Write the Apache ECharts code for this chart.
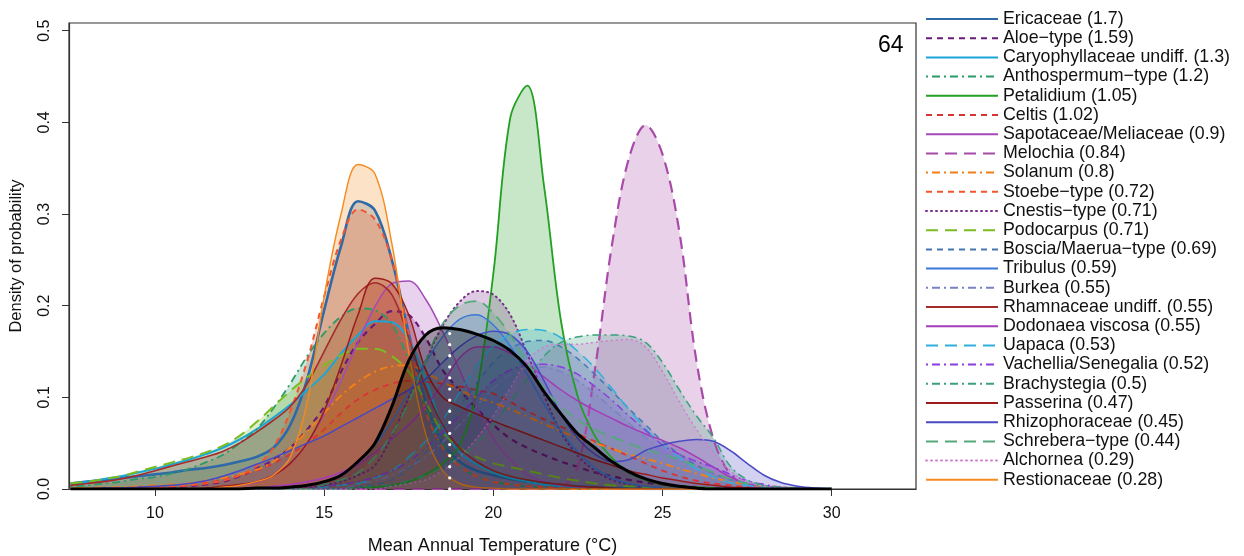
<!DOCTYPE html>
<html>
<head>
<meta charset="utf-8">
<script src="https://cdn.jsdelivr.net/npm/echarts@6/dist/echarts.min.js"></script>
<style>
  html, body { margin: 0; background: #fff; }
  #chart { width: 1244px; height: 556px; }
</style>
</head>
<body>
<div id="chart"></div>
<script>
// temperature grid (°C) shared by every density curve
var temps = [7.5, 8, 8.5, 9, 9.5, 10, 10.5, 11, 11.5, 12,
  12.5, 13, 13.5, 14, 14.5, 15, 15.5, 16, 16.5, 17,
  17.5, 18, 18.5, 19, 19.5, 20, 20.5, 21, 21.5, 22,
  22.5, 23, 23.5, 24, 24.5, 25, 25.5, 26, 26.5, 27,
  27.5, 28, 28.5, 29, 29.5, 30];

var taxa = ['Ericaceae', 'Aloe\u2212type', 'Caryophyllaceae undiff.', 'Anthospermum\u2212type', 'Petalidium',
  'Celtis', 'Sapotaceae/Meliaceae', 'Melochia', 'Solanum', 'Stoebe\u2212type', 'Cnestis\u2212type', 'Podocarpus',
  'Boscia/Maerua\u2212type', 'Tribulus', 'Burkea', 'Rhamnaceae undiff.', 'Dodonaea viscosa', 'Uapaca',
  'Vachellia/Senegalia', 'Brachystegia', 'Passerina', 'Rhizophoraceae', 'Schrebera\u2212type', 'Alchornea',
  'Restionaceae'];
var weights = ['1.7', '1.59', '1.3', '1.2', '1.05', '1.02', '0.9', '0.84', '0.8', '0.72', '0.71', '0.71',
  '0.69', '0.59', '0.55', '0.55', '0.55', '0.53', '0.52', '0.5', '0.47', '0.45', '0.44', '0.29', '0.28'];

var ericaceae = [0.006, 0.008, 0.010, 0.012, 0.014, 0.016, 0.018, 0.021, 0.023, 0.026,
  0.030, 0.035, 0.045, 0.070, 0.120, 0.195, 0.265, 0.314, 0.304, 0.250,
  0.170, 0.095, 0.050, 0.030, 0.020, 0.015, 0.011, 0.008, 0.006, 0.004,
  0.003, 0.002, 0.001, 0.001, 0, 0, 0, 0, 0, 0,
  0, 0, 0, 0, 0, 0];
var aloe = [0, 0, 0.001, 0.001, 0.001, 0.002, 0.002, 0.003, 0.005, 0.008,
  0.014, 0.022, 0.032, 0.045, 0.065, 0.090, 0.128, 0.160, 0.180, 0.194,
  0.190, 0.165, 0.130, 0.108, 0.088, 0.070, 0.055, 0.045, 0.037, 0.030,
  0.024, 0.018, 0.014, 0.010, 0.007, 0.005, 0.003, 0.002, 0.001, 0.001,
  0, 0, 0, 0, 0, 0];
var caryophyllaceae = [0.006, 0.008, 0.011, 0.014, 0.018, 0.022, 0.027, 0.032, 0.038, 0.045,
  0.054, 0.065, 0.078, 0.092, 0.108, 0.125, 0.148, 0.168, 0.183, 0.182,
  0.163, 0.120, 0.068, 0.040, 0.027, 0.018, 0.012, 0.008, 0.005, 0.003,
  0.002, 0.001, 0, 0, 0, 0, 0, 0, 0, 0,
  0, 0, 0, 0, 0, 0];
var anthospermum = [0.003, 0.004, 0.006, 0.008, 0.011, 0.013, 0.017, 0.022, 0.029, 0.037,
  0.050, 0.065, 0.088, 0.115, 0.145, 0.170, 0.188, 0.197, 0.195, 0.180,
  0.140, 0.090, 0.050, 0.025, 0.014, 0.008, 0.005, 0.003, 0.002, 0.001,
  0, 0, 0, 0, 0, 0, 0, 0, 0, 0,
  0, 0, 0, 0, 0, 0];
var petalidium = [0, 0, 0, 0, 0, 0, 0, 0, 0, 0,
  0, 0, 0, 0, 0, 0, 0, 0.001, 0.002, 0.004,
  0.008, 0.016, 0.028, 0.047, 0.105, 0.235, 0.405, 0.440, 0.330, 0.183,
  0.100, 0.058, 0.034, 0.018, 0.010, 0.005, 0.003, 0.002, 0.001, 0,
  0, 0, 0, 0, 0, 0];
var celtis = [0, 0, 0.001, 0.001, 0.002, 0.002, 0.003, 0.004, 0.007, 0.010,
  0.015, 0.020, 0.028, 0.038, 0.050, 0.065, 0.083, 0.098, 0.108, 0.115,
  0.118, 0.117, 0.115, 0.112, 0.108, 0.104, 0.095, 0.085, 0.076, 0.068,
  0.060, 0.052, 0.044, 0.036, 0.028, 0.020, 0.014, 0.009, 0.006, 0.004,
  0.002, 0.001, 0, 0, 0, 0];
var sapotaceae = [0, 0, 0, 0, 0, 0, 0, 0, 0, 0.002,
  0.004, 0.007, 0.015, 0.028, 0.050, 0.081, 0.118, 0.160, 0.199, 0.224,
  0.227, 0.207, 0.172, 0.130, 0.090, 0.055, 0.032, 0.016, 0.008, 0.004,
  0.002, 0.001, 0, 0, 0, 0, 0, 0, 0, 0,
  0, 0, 0, 0, 0, 0];
var melochia = [0, 0, 0, 0, 0, 0, 0, 0, 0, 0,
  0, 0, 0, 0, 0, 0, 0, 0, 0, 0,
  0, 0, 0, 0, 0, 0, 0, 0, 0, 0.002,
  0.025, 0.130, 0.265, 0.360, 0.397, 0.365, 0.280, 0.140, 0.055, 0.016,
  0.004, 0.001, 0, 0, 0, 0];
var solanum = [0.001, 0.001, 0.002, 0.002, 0.003, 0.004, 0.005, 0.006, 0.009, 0.012,
  0.016, 0.021, 0.030, 0.045, 0.063, 0.083, 0.102, 0.117, 0.128, 0.134,
  0.135, 0.127, 0.117, 0.108, 0.100, 0.094, 0.087, 0.079, 0.071, 0.063,
  0.056, 0.050, 0.044, 0.038, 0.033, 0.028, 0.022, 0.017, 0.012, 0.008,
  0.005, 0.003, 0.002, 0.001, 0, 0];
var stoebe = [0, 0, 0, 0.001, 0.001, 0.002, 0.003, 0.004, 0.006, 0.009,
  0.015, 0.025, 0.045, 0.085, 0.140, 0.210, 0.272, 0.305, 0.294, 0.250,
  0.168, 0.085, 0.045, 0.025, 0.014, 0.008, 0.005, 0.003, 0.002, 0.001,
  0, 0, 0, 0, 0, 0, 0, 0, 0, 0,
  0, 0, 0, 0, 0, 0];
var cnestis = [0, 0, 0, 0, 0, 0, 0, 0, 0, 0,
  0, 0, 0, 0.001, 0.002, 0.004, 0.008, 0.015, 0.026, 0.058,
  0.100, 0.140, 0.178, 0.204, 0.216, 0.212, 0.190, 0.148, 0.102, 0.062,
  0.036, 0.020, 0.010, 0.005, 0.002, 0.001, 0, 0, 0, 0,
  0, 0, 0, 0, 0, 0];
var podocarpus = [0.0065, 0.008, 0.011, 0.014, 0.019, 0.024, 0.029, 0.034, 0.040, 0.047,
  0.058, 0.073, 0.090, 0.107, 0.122, 0.135, 0.146, 0.153, 0.153, 0.145,
  0.128, 0.095, 0.062, 0.045, 0.035, 0.028, 0.024, 0.020, 0.016, 0.012,
  0.009, 0.006, 0.004, 0.003, 0.002, 0.001, 0, 0, 0, 0,
  0, 0, 0, 0, 0, 0];
var boscia = [0, 0, 0, 0, 0, 0, 0, 0, 0, 0,
  0, 0, 0, 0, 0, 0, 0, 0.002, 0.005, 0.010,
  0.022, 0.040, 0.063, 0.090, 0.115, 0.138, 0.153, 0.161, 0.162, 0.155,
  0.142, 0.125, 0.107, 0.088, 0.070, 0.052, 0.038, 0.026, 0.017, 0.010,
  0.006, 0.003, 0.001, 0, 0, 0];
var tribulus = [0, 0, 0, 0, 0, 0, 0, 0, 0, 0,
  0, 0, 0, 0.002, 0.004, 0.008, 0.016, 0.029, 0.048, 0.074,
  0.105, 0.138, 0.166, 0.185, 0.190, 0.179, 0.156, 0.125, 0.093, 0.063,
  0.040, 0.023, 0.012, 0.006, 0.003, 0.001, 0, 0, 0, 0,
  0, 0, 0, 0, 0, 0];
var burkea = [0, 0, 0, 0, 0, 0, 0, 0, 0, 0,
  0, 0, 0, 0, 0, 0, 0, 0.005, 0.009, 0.015,
  0.024, 0.035, 0.051, 0.070, 0.090, 0.110, 0.125, 0.132, 0.133, 0.128,
  0.118, 0.104, 0.088, 0.072, 0.056, 0.042, 0.031, 0.022, 0.015, 0.010,
  0.006, 0.004, 0.002, 0.001, 0, 0];
var rhamnaceae = [0.004, 0.006, 0.008, 0.011, 0.015, 0.020, 0.025, 0.030, 0.035, 0.041,
  0.050, 0.062, 0.075, 0.090, 0.115, 0.150, 0.185, 0.213, 0.225, 0.212,
  0.165, 0.110, 0.070, 0.045, 0.030, 0.020, 0.014, 0.010, 0.007, 0.005,
  0.003, 0.002, 0.001, 0, 0, 0, 0, 0, 0, 0,
  0, 0, 0, 0, 0, 0];
var dodonaea = [0, 0, 0, 0, 0, 0, 0, 0, 0, 0,
  0, 0.001, 0.003, 0.005, 0.008, 0.012, 0.018, 0.027, 0.040, 0.055,
  0.070, 0.090, 0.115, 0.143, 0.155, 0.155, 0.148, 0.136, 0.122, 0.108,
  0.096, 0.086, 0.077, 0.068, 0.060, 0.053, 0.045, 0.035, 0.024, 0.013,
  0.006, 0.003, 0.001, 0, 0, 0];
var uapaca = [0, 0, 0, 0, 0, 0, 0, 0, 0, 0,
  0, 0, 0, 0, 0, 0.002, 0.004, 0.006, 0.012, 0.020,
  0.035, 0.052, 0.075, 0.105, 0.134, 0.156, 0.169, 0.174, 0.173, 0.165,
  0.150, 0.132, 0.110, 0.087, 0.066, 0.048, 0.034, 0.022, 0.013, 0.007,
  0.004, 0.002, 0.001, 0, 0, 0];
var vachellia = [0, 0, 0, 0, 0, 0, 0, 0, 0, 0,
  0, 0, 0, 0, 0, 0.003, 0.005, 0.008, 0.013, 0.020,
  0.030, 0.045, 0.062, 0.080, 0.100, 0.118, 0.130, 0.135, 0.136, 0.133,
  0.125, 0.112, 0.097, 0.080, 0.064, 0.048, 0.038, 0.030, 0.024, 0.016,
  0.009, 0.005, 0.002, 0.001, 0, 0];
var brachystegia = [0, 0, 0, 0, 0, 0, 0, 0, 0, 0,
  0, 0, 0, 0, 0, 0, 0, 0.002, 0.003, 0.005,
  0.009, 0.015, 0.024, 0.035, 0.050, 0.070, 0.095, 0.120, 0.145, 0.160,
  0.166, 0.168, 0.168, 0.167, 0.160, 0.138, 0.108, 0.080, 0.056, 0.025,
  0.010, 0.004, 0.002, 0.001, 0, 0];
var passerina = [0, 0, 0, 0, 0, 0, 0, 0, 0.001, 0.003,
  0.005, 0.008, 0.015, 0.028, 0.050, 0.085, 0.135, 0.190, 0.230, 0.224,
  0.190, 0.130, 0.100, 0.090, 0.082, 0.074, 0.067, 0.060, 0.053, 0.046,
  0.039, 0.032, 0.026, 0.020, 0.016, 0.012, 0.009, 0.006, 0.004, 0.002,
  0.001, 0, 0, 0, 0, 0];
var rhizophoraceae = [0, 0, 0.001, 0.001, 0.002, 0.003, 0.004, 0.006, 0.009, 0.014,
  0.020, 0.027, 0.034, 0.042, 0.050, 0.058, 0.068, 0.078, 0.088, 0.098,
  0.108, 0.120, 0.138, 0.155, 0.167, 0.172, 0.168, 0.150, 0.118, 0.082,
  0.055, 0.038, 0.030, 0.032, 0.042, 0.048, 0.052, 0.054, 0.052, 0.042,
  0.028, 0.015, 0.007, 0.003, 0.001, 0];
var schrebera = [0, 0, 0, 0, 0, 0, 0, 0, 0, 0,
  0, 0, 0, 0, 0, 0.005, 0.010, 0.018, 0.035, 0.060,
  0.095, 0.140, 0.180, 0.200, 0.205, 0.192, 0.168, 0.138, 0.110, 0.090,
  0.075, 0.065, 0.057, 0.050, 0.043, 0.038, 0.032, 0.025, 0.018, 0.011,
  0.006, 0.003, 0.001, 0, 0, 0];
var alchornea = [0, 0, 0, 0, 0, 0, 0, 0, 0, 0,
  0, 0, 0, 0, 0, 0, 0, 0, 0, 0.003,
  0.006, 0.010, 0.020, 0.035, 0.055, 0.080, 0.110, 0.140, 0.155, 0.158,
  0.158, 0.160, 0.162, 0.163, 0.155, 0.128, 0.095, 0.065, 0.040, 0.020,
  0.008, 0.003, 0.001, 0, 0, 0];
var restionaceae = [0, 0, 0, 0, 0, 0, 0, 0, 0, 0.002,
  0.004, 0.008, 0.015, 0.035, 0.095, 0.210, 0.300, 0.354, 0.344, 0.268,
  0.150, 0.060, 0.020, 0.006, 0.002, 0.001, 0, 0, 0, 0,
  0, 0, 0, 0, 0, 0, 0, 0, 0, 0,
  0, 0, 0, 0, 0, 0];
// weighted combined density (black curve) and its mode
var combined = [0, 0, 0, 0, 0, 0, 0, 0, 0, 0,
  0, 0.001, 0.001, 0.002, 0.004, 0.008, 0.015, 0.030, 0.050, 0.090,
  0.140, 0.168, 0.176, 0.174, 0.169, 0.162, 0.151, 0.133, 0.106, 0.082,
  0.060, 0.045, 0.030, 0.019, 0.011, 0.006, 0.003, 0.001, 0, 0,
  0, 0, 0, 0, 0, 0];
var modeTemp = 18.71;
var modeDensity = 0.176;

var densities = [ericaceae, aloe, caryophyllaceae, anthospermum, petalidium, celtis, sapotaceae,
  melochia, solanum, stoebe, cnestis, podocarpus, boscia, tribulus, burkea, rhamnaceae, dodonaea,
  uapaca, vachellia, brachystegia, passerina, rhizophoraceae, schrebera, alchornea, restionaceae];

// styles
var DASH = [6, 5], LONG = [12, 7], DOTDASH = [2, 4, 8, 4], DOT = [1, 4];
var colors = ['#2f6aa8', '#6a1a7a', '#1ba6d8', '#2a9a68', '#23a023', '#d93434', '#a44ab8', '#a84aa8',
  '#f07f1a', '#f2542d', '#7a2e8e', '#7cbc22', '#4677b0', '#3b78d8', '#7a82c4', '#a52a2a', '#a43cb8',
  '#2fb0dc', '#8a3de0', '#3aa07e', '#9c1c1c', '#4a4ac4', '#54a87a', '#d07ed0', '#f58a1e'];
var dashes = ['solid', DASH, 'solid', DOTDASH, 'solid', DASH, 'solid', LONG, DOTDASH, DASH, DOT, LONG,
  DASH, 'solid', DOTDASH, 'solid', 'solid', LONG, DOTDASH, DOTDASH, 'solid', 'solid', LONG, DOT, 'solid'];
var widths = [2.6, 2.2, 2, 1.8, 1.8, 1.8, 1.5, 2.2, 2, 2, 2, 2, 1.5, 1.5, 1.5, 1.6, 1.5, 1.5, 1.5, 1.5,
  1.5, 1.5, 1.8, 1.5, 1.4];

var series = taxa.map(function (t, k) {
  return {
    name: t + ' (' + weights[k] + ')',
    type: 'line',
    smooth: 0.35,
    symbol: 'none',
    silent: true,
    data: temps.map(function (x, i) { return [x, densities[k][i]]; }),
    lineStyle: { color: colors[k], width: widths[k], type: dashes[k], cap: dashes[k] === DOT ? 'round' : 'butt' },
    itemStyle: { color: colors[k] },
    areaStyle: { color: colors[k], opacity: 0.25 }
  };
});
series.push({
  name: 'combined',
  type: 'line',
  smooth: 0.35,
  symbol: 'none',
  silent: true,
  data: temps.map(function (x, i) { return [x, combined[i]]; }),
  lineStyle: { color: '#000', width: 3 },
  areaStyle: { color: '#000', opacity: 0.3 },
  z: 5
});
series.push({
  name: 'mode',
  type: 'line',
  symbol: 'none',
  silent: true,
  data: [[modeTemp, 0], [modeTemp, modeDensity]],
  lineStyle: { color: '#fff', width: 3.2, type: [0.1, 11], cap: 'round' },
  z: 6
});

var font = 'Liberation Sans, Arial, Helvetica, sans-serif';
var chart = echarts.init(document.getElementById('chart'));
chart.setOption({
  animation: false,
  backgroundColor: '#fff',
  grid: {
    left: 69, right: 328, top: 23, bottom: 67, show: true, borderColor: '#333', borderWidth: 1.2,
    containLabel: false, outerBoundsMode: 'none'
  },
  legend: {
    data: series.slice(0, taxa.length).map(function (s) { return s.name; }),
    orient: 'vertical',
    left: 920,
    top: 5,
    itemWidth: 72,
    itemHeight: 14,
    itemGap: 1.2,
    selectedMode: false,
    itemStyle: { opacity: 0 },
    textStyle: { fontSize: 17.8, lineHeight: 14, color: '#111', fontFamily: font, padding: [0, 0, 0, 0] }
  },
  xAxis: {
    type: 'value',
    min: 7.46,
    max: 32.49,
    name: 'Mean Annual Temperature (\u00b0C)',
    nameLocation: 'middle',
    nameGap: 48,
    nameTextStyle: { fontSize: 18, color: '#111', fontFamily: font },
    axisLine: { show: true, lineStyle: { color: '#333', width: 1.2 } },
    axisTick: { show: true, length: 7, lineStyle: { color: '#333' }, customValues: [10, 15, 20, 25, 30] },
    axisLabel: { fontSize: 16, color: '#111', fontFamily: font, margin: 17, customValues: [10, 15, 20, 25, 30] },
    splitLine: { show: false }
  },
  yAxis: {
    type: 'value',
    min: 0,
    max: 0.5084,
    name: 'Density of probability',
    nameLocation: 'middle',
    nameGap: 44,
    nameTextStyle: { fontSize: 16.5, color: '#111', fontFamily: font },
    axisLine: { show: true, lineStyle: { color: '#333', width: 1.2 } },
    axisTick: { show: true, length: 7, lineStyle: { color: '#333' }, customValues: [0, 0.1, 0.2, 0.3, 0.4, 0.5] },
    axisLabel: {
      fontSize: 16, color: '#111', fontFamily: font, margin: 16, rotate: 90,
      customValues: [0, 0.1, 0.2, 0.3, 0.4, 0.5],
      formatter: function (v) { return v.toFixed(1); }
    },
    splitLine: { show: false }
  },
  graphic: [{
    type: 'text',
    left: 878,
    top: 34,
    style: { text: '64', fontSize: 23, fill: '#000', fontFamily: font }
  }],
  series: series
});
</script>
</body>
</html>
